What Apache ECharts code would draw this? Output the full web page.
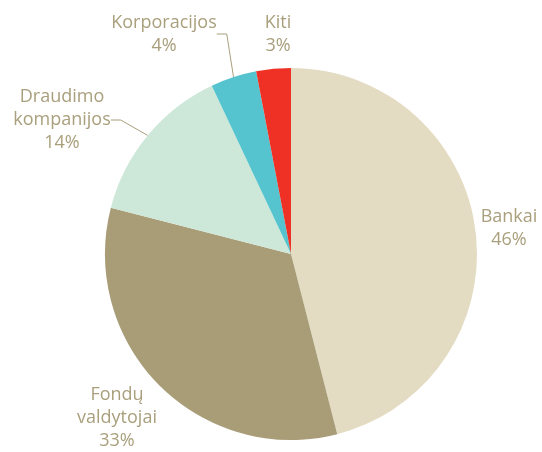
<!DOCTYPE html>
<html>
<head>
<meta charset="utf-8">
<script src="https://cdn.jsdelivr.net/npm/echarts@6/dist/echarts.min.js"></script>
<style>
  html, body { margin: 0; padding: 0; background: #fff; }
  #chart { width: 542px; height: 452px; }
</style>
</head>
<body>
<div id="chart"></div>
<script>
// duomenys
const categories = ['Bankai', 'Fondų\nvaldytojai', 'Draudimo\nkompanijos', 'Korporacijos', 'Kiti'];
const shares = [46, 33, 14, 4, 3];
const colors = ['#e3dcc3', '#a99d78', '#cde7d8', '#56c4cf', '#ee3124'];
// etikečių vietos (x, y centras)
const labelPos = [[509, 228], [117, 418], [62, 120], [164, 34], [278, 34]];
const showLine = [false, false, true, true, false];

const chart = echarts.init(document.getElementById('chart'));

const option = {
  animation: false,
  series: [
    {
      type: 'pie',
      center: [291, 254],
      radius: [0, 186],
      startAngle: 90,
      clockwise: true,
      label: {
        show: true,
        position: 'outside',
        formatter: '{b}\n{c}%',
        color: '#a99f7c',
        fontFamily: 'Open Sans',
        fontSize: 18,
        lineHeight: 23,
        align: 'center',
        overflow: 'none'
      },
      labelLine: {
        show: true,
        length: 10,
        length2: 10,
        lineStyle: { color: '#a99f7c', width: 1 }
      },
      labelLayout: function (params) {
        const p = labelPos[params.dataIndex];
        return { x: p[0], y: p[1], align: 'center', verticalAlign: 'middle' };
      },
      data: categories.map((name, i) => ({
        name: name,
        value: shares[i],
        itemStyle: { color: colors[i] },
        labelLine: { show: showLine[i] }
      }))
    }
  ]
};

chart.setOption(option);
</script>
</body>
</html>
